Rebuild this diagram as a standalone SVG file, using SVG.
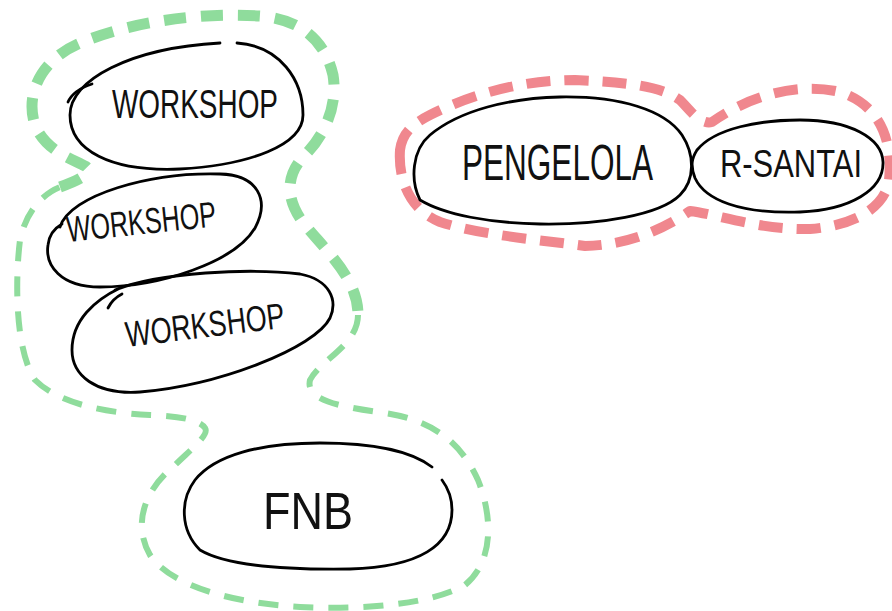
<svg xmlns="http://www.w3.org/2000/svg" width="892" height="611" viewBox="0 0 892 611">
<style>
.zone-g{fill:none;stroke:#8fdc9c;stroke-linecap:butt;stroke-linejoin:round}
.zone-r{fill:none;stroke:#f0878e;stroke-width:10;stroke-dasharray:24 14;stroke-linejoin:round}
.bubble{fill:none;stroke:#000;stroke-width:2.8;stroke-linecap:round;stroke-linejoin:round}
.lbl{font-family:"Liberation Sans","DejaVu Sans",sans-serif;fill:#111;font-weight:normal}
</style>
<rect width="892" height="611" fill="#fff"/>
<g id="zones">
<path class="zone-g" stroke-width="11" stroke-dasharray="22 15" d="M 60,187 C 80,180 95,172 85,166 C 70,158 45,150 35,125 C 25,95 40,60 80,43 C 130,22 200,12 260,16 C 300,19 325,40 333,75 C 338,105 325,135 305,155 C 285,175 285,200 305,225 C 330,255 358,280 358,315"/>
<path class="zone-g" stroke-width="6" stroke-dasharray="20 15" d="M 358,315 C 358,345 320,360 310,380 C 305,400 340,407 385,413 C 430,420 460,440 478,480 C 492,515 495,560 465,585 C 430,605 360,610 300,607 C 230,603 170,585 150,555 C 130,520 150,485 173,467 C 190,450 210,435 205,428 C 200,420 180,416 150,415 C 110,413 60,405 35,380 C 15,350 15,280 20,240 C 25,215 40,195 60,187"/>
<path class="zone-r" d="M 400,150 C 398,180 410,210 440,222 C 480,235 540,240 585,246 C 630,245 665,228 690,211 C 720,215 760,230 810,229 C 850,226 885,210 889,180 C 893,140 880,105 840,92 C 800,82 750,95 712,122 C 700,125 690,110 680,100 C 660,85 620,82 575,80 C 520,80 470,95 430,115 C 410,125 402,135 400,150 Z"/>
</g>
<g id="workshop-1">
<path class="bubble" d="M 237,43 C 280,46 303,80 303,115 C 303,145 250,165 180,169 C 110,172 70,150 70,115 C 70,80 130,48 220,43"/>
<path class="bubble" d="M 68,102 C 72,93 80,88 92,84"/>
<text class="lbl" x="112" y="118" font-size="40" textLength="166" lengthAdjust="spacingAndGlyphs">WORKSHOP</text>
</g>
<g id="workshop-2">
<path class="bubble" d="M 60,227 C 70,195 150,172 220,174 C 258,175 270,200 255,228 C 235,262 160,287 100,287 C 60,287 45,265 48,245 C 49,235 55,228 62,224"/>
<text class="lbl" x="68" y="242" font-size="36" textLength="150" lengthAdjust="spacingAndGlyphs" transform="rotate(-6 68 242)">WORKSHOP</text>
</g>
<g id="workshop-3">
<path class="bubble" d="M 115,290 C 160,272 250,268 300,274 C 330,280 338,300 330,318 C 315,348 220,385 140,392 C 95,395 72,375 72,350 C 72,320 95,300 120,288"/>
<path class="bubble" d="M 108,308 C 112,300 118,296 122,294"/>
<text class="lbl" x="127" y="347" font-size="36" textLength="160" lengthAdjust="spacingAndGlyphs" transform="rotate(-7 127 347)">WORKSHOP</text>
</g>
<g id="fnb">
<path class="bubble" d="M 432,467 C 410,450 370,443 320,443 C 260,443 215,455 195,480 C 180,500 180,530 200,550 C 225,565 280,570 350,569 C 420,567 452,545 452,510 C 452,497 448,488 442,480"/>
<text class="lbl" x="263" y="529" font-size="52" textLength="90" lengthAdjust="spacingAndGlyphs">FNB</text>
</g>
<g id="pengelola">
<path class="bubble" d="M 420,200 C 410,180 412,150 430,135 C 460,110 510,98 560,97 C 620,96 665,110 682,135 C 695,155 695,180 680,195 C 660,215 600,225 540,224 C 490,223 445,215 420,200"/>
<text class="lbl" x="462" y="180" font-size="50" textLength="191" lengthAdjust="spacingAndGlyphs">PENGELOLA</text>
</g>
<g id="r-santai">
<path class="bubble" d="M 697,150 C 715,128 760,120 800,120 C 850,120 882,138 883,162 C 884,190 850,210 800,212 C 740,214 705,200 695,178 C 690,165 692,158 697,150"/>
<text class="lbl" x="720" y="177" font-size="38" textLength="142" lengthAdjust="spacingAndGlyphs">R-SANTAI</text>
</g>
</svg>
